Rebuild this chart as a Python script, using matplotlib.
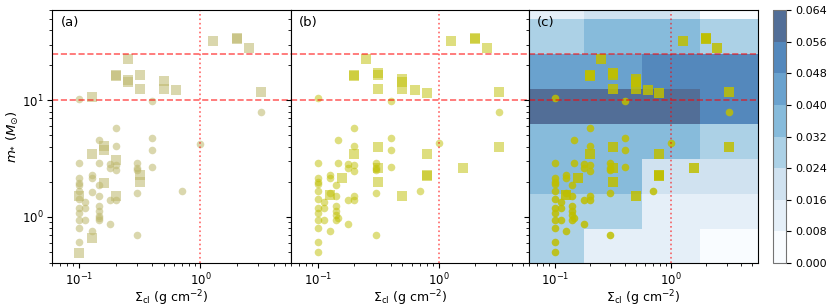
import numpy as np
import matplotlib
matplotlib.use("Agg")
import matplotlib.pyplot as plt
from matplotlib.colors import BoundaryNorm

# panel (a): squares / circles
sig_a_sq = [1.26, 2.0, 2.0, 2.5, 0.253, 0.2, 0.2, 0.253, 0.253, 0.317, 0.317, 0.5, 0.5, 0.63,
            0.127, 3.16, 0.127, 0.16, 0.16, 0.2, 0.16, 0.317, 0.317, 0.1, 0.2, 0.127, 0.1]
m_a_sq = [32.8, 33.5, 34.5, 28.2, 22.7, 16.3, 16.5, 15.1, 14.3, 16.6, 12.6, 14.6, 12.5, 12.4,
          10.8, 11.9, 3.48, 4.02, 3.72, 3.05, 1.97, 2.3, 2.0, 1.5, 1.5, 0.66, 0.49]
sig_a_ci = [0.1, 0.4, 3.16, 0.2, 0.4, 0.147, 1.0, 0.2, 0.4, 0.1, 0.147, 0.179, 0.179, 0.2, 0.2,
            0.302, 0.302, 0.302, 0.4, 0.127, 0.127, 0.1, 0.1, 0.1, 0.145, 0.127, 0.145, 0.179,
            0.2, 0.302, 0.706, 0.1, 0.1, 0.113, 0.113, 0.1, 0.1, 0.1, 0.1, 0.113, 0.145, 0.145,
            0.145, 0.147, 0.145, 0.127, 0.179, 0.1, 0.302]
m_a_ci = [10.3, 9.8, 7.95, 5.78, 4.78, 4.56, 4.24, 4.08, 3.77, 2.89, 2.89, 2.82, 2.62, 2.8, 2.53,
          2.89, 2.62, 2.5, 2.69, 2.3, 2.15, 2.15, 1.97, 1.88, 1.86, 1.62, 1.5, 1.4,
          1.4, 1.6, 1.68, 1.42, 1.65, 1.33, 1.19, 1.19, 1.07, 0.94, 0.8, 0.93, 1.23, 1.11,
          1.02, 0.97, 0.93, 0.76, 0.865, 0.61, 0.70]

# panel (b) and (c): squares / circles
sig_b_sq = [1.26, 2.0, 2.0, 2.5, 0.251, 0.2, 0.2, 0.316, 0.316, 0.316, 0.5, 0.5, 0.5, 0.632,
            0.794, 3.16, 0.316, 0.2, 0.794, 3.16, 1.58, 0.316, 0.158, 0.794, 0.794, 0.316,
            0.5, 0.126]
m_b_sq = [32.8, 33.7, 34.8, 28.2, 22.7, 16.3, 16.5, 17.4, 16.6, 12.6, 15.2, 14.4, 12.6, 12.4,
          11.6, 11.9, 4.0, 3.48, 3.48, 4.0, 2.62, 2.62, 2.15, 2.3, 2.25, 1.99,
          1.5, 1.55]
sig_b_ci = [0.1, 0.4, 3.16, 0.2, 0.147, 0.4, 1.0, 0.2, 0.4, 0.1, 0.147, 0.179, 0.179, 0.2, 0.2,
            0.3, 0.3, 0.3, 0.4, 0.1, 0.1, 0.1, 0.126, 0.126, 0.141, 0.1, 0.1, 0.126, 0.112,
            0.141, 0.179, 0.2, 0.2, 0.3, 0.705, 0.1, 0.1, 0.1, 0.1, 0.112, 0.112, 0.141, 0.141,
            0.141, 0.147, 0.141, 0.126, 0.179, 0.1, 0.1, 0.3]
m_b_ci = [10.5, 9.8, 7.94, 5.8, 4.55, 4.78, 4.28, 4.08, 3.77, 2.89, 2.89, 2.82, 2.62, 2.78, 2.47,
          2.9, 2.6, 2.5, 2.69, 2.14, 1.98, 1.9, 2.3, 2.15, 1.86, 1.65, 1.42, 1.6, 1.33,
          1.5, 1.4, 1.5, 1.4, 1.6, 1.68, 1.19, 1.07, 0.94, 0.8, 1.19, 0.93, 1.23, 1.12,
          1.03, 0.98, 0.93, 0.76, 0.865, 0.61, 0.5, 0.70]

# panel (c) density map
sig_edges = [0.0562, 0.178, 0.562, 1.78, 5.62]
m_edges = [0.390625, 0.78125, 1.5625, 3.125, 6.25, 12.5, 25, 50, 100]
density = [
    [0.028, 0.012, 0.012, 0.004],
    [0.028, 0.028, 0.012, 0.012],
    [0.036, 0.036, 0.020, 0.020],
    [0.036, 0.036, 0.036, 0.028],
    [0.060, 0.060, 0.060, 0.052],
    [0.044, 0.044, 0.052, 0.052],
    [0.028, 0.036, 0.036, 0.028],
    [0.012, 0.020, 0.020, 0.004],
]
levels = np.arange(0, 0.0641, 0.008)

fig = plt.figure(figsize=(8.3, 3.08), dpi=100)
bottom, height = 0.1461, 0.8214
ax_a = fig.add_axes([0.0627, bottom, 0.2880, height])
ax_b = fig.add_axes([0.3506, bottom, 0.2867, height], sharey=ax_a)
ax_c = fig.add_axes([0.6373, bottom, 0.2759, height], sharey=ax_a)
cax = fig.add_axes([0.9313, bottom, 0.0157, height])

norm = BoundaryNorm(levels, 256)
mesh = ax_c.pcolormesh(sig_edges, m_edges, np.array(density), cmap="Blues", norm=norm,
                       alpha=0.7, zorder=0)

ax_a.scatter(sig_a_sq, m_a_sq, marker="s", s=42, color="darkkhaki", alpha=0.55, lw=0)
ax_a.scatter(sig_a_ci, m_a_ci, marker="o", s=30, color="darkkhaki", alpha=0.55, lw=0)
ax_b.scatter(sig_b_sq, m_b_sq, marker="s", s=42, color="y", alpha=0.5, lw=0)
ax_b.scatter(sig_b_ci, m_b_ci, marker="o", s=30, color="y", alpha=0.5, lw=0)
ax_c.scatter(sig_b_sq, m_b_sq, marker="s", s=42, color="y", alpha=0.85, lw=0)
ax_c.scatter(sig_b_ci, m_b_ci, marker="o", s=30, color="y", alpha=0.85, lw=0)

for ax, lab in zip([ax_a, ax_b, ax_c], ["(a)", "(b)", "(c)"]):
    ax.set_xscale("log")
    ax.set_yscale("log")
    ax.set_xlim(0.06, 5.57)
    ax.set_ylim(0.4, 60)
    ax.axhline(10, color="r", ls="--", lw=1.2, alpha=0.6)
    ax.axhline(25, color="r", ls="--", lw=1.2, alpha=0.6)
    ax.axvline(1, color="r", ls=":", lw=1.2, alpha=0.6)
    ax.text(0.035, 0.975, lab, transform=ax.transAxes, ha="left", va="top", fontsize=9.5)
    ax.set_xlabel(r"$\Sigma_{\rm cl}$ (g cm$^{-2}$)", fontsize=9, labelpad=0)
    ax.tick_params(labelsize=8.5, pad=2.5)

ax_a.set_ylabel(r"$m_{*}$ ($M_{\odot}$)", fontsize=9.5, labelpad=1)
plt.setp(ax_b.get_yticklabels(), visible=False)
plt.setp(ax_c.get_yticklabels(), visible=False)

cb = fig.colorbar(mesh, cax=cax, ticks=levels, format="%.3f")
cb.ax.tick_params(labelsize=8)
cb.outline.set_edgecolor("0.45")

fig.savefig("out.png", dpi=100)
